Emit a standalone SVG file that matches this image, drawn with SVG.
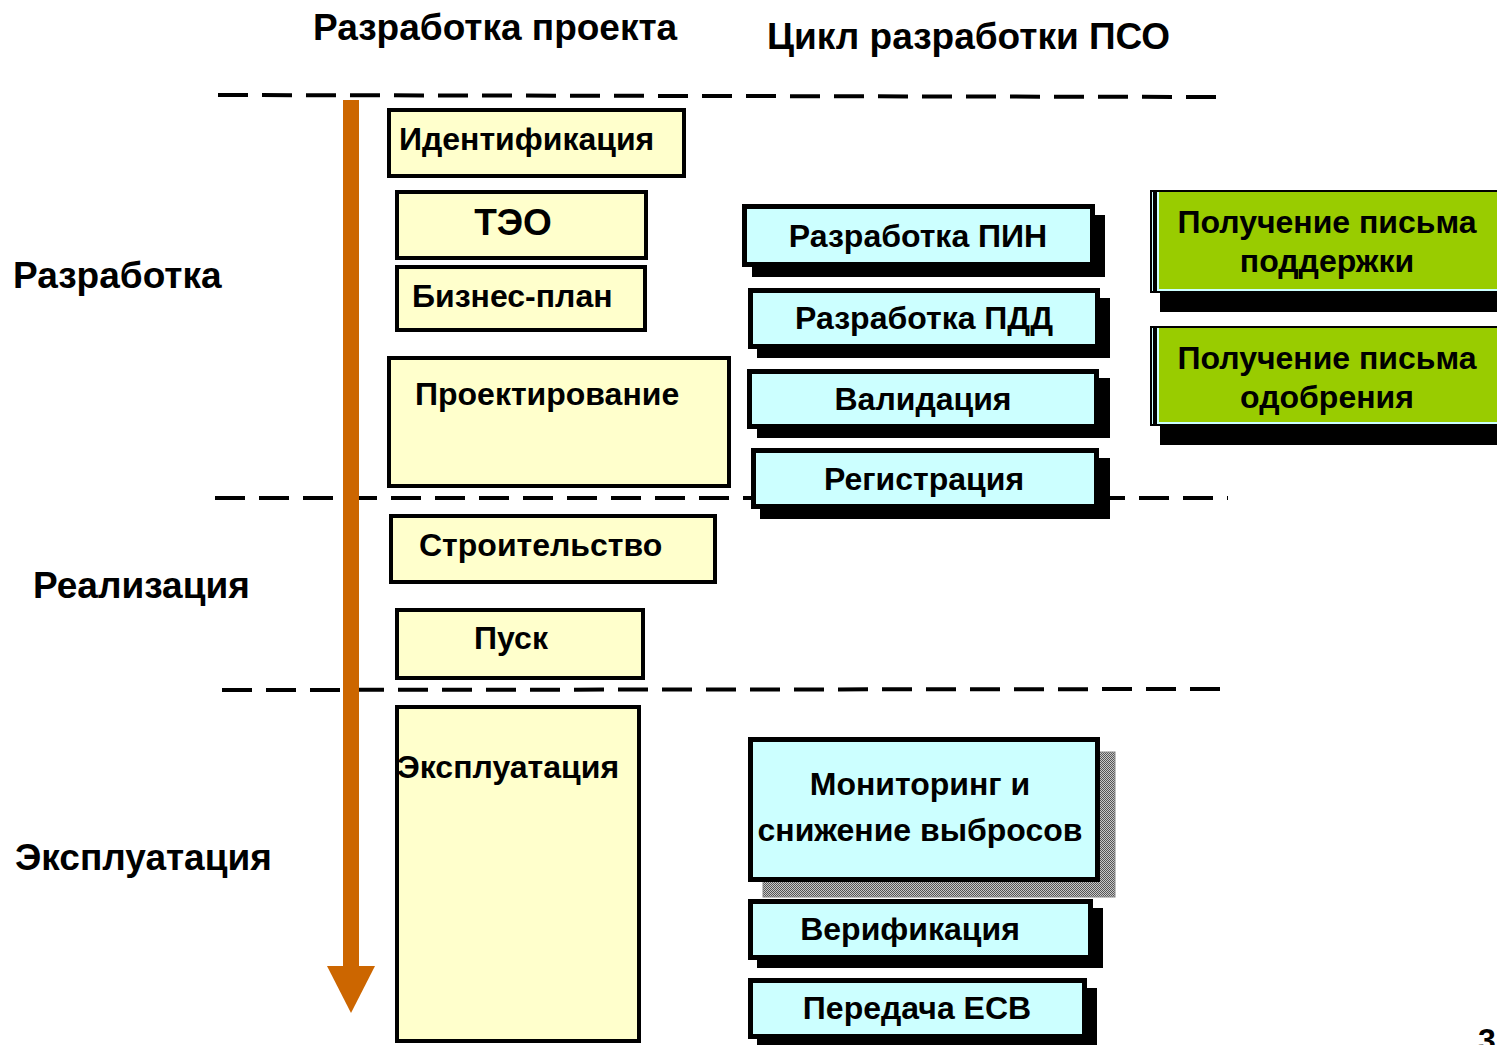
<svg xmlns="http://www.w3.org/2000/svg" width="1497" height="1045" viewBox="0 0 1497 1045">
<defs>
<style>
text{font-family:"Liberation Sans",Arial,sans-serif;font-weight:bold;fill:#000}
.hdr{font-size:37px}
.lbl{font-size:37px}
.t{font-size:32px}
.y{fill:#ffffcc;stroke:#000;stroke-width:4}
.c{fill:#ccffff;stroke:#000;stroke-width:5}
.sh{fill:#000}
.dash{stroke:#000;stroke-width:4;stroke-dasharray:30 14;fill:none}
.mid{text-anchor:middle}
</style>
<pattern id="hatch" width="2" height="2" patternUnits="userSpaceOnUse">
<rect width="2" height="2" fill="#c8c8c8"/>
<rect width="1" height="1" fill="#555"/>
<rect x="1" y="1" width="1" height="1" fill="#555"/>
</pattern>
</defs>
<rect width="1497" height="1045" fill="#fff"/>

<g id="headers">
<text class="hdr" x="313" y="40">Разработка проекта</text>
<text class="hdr" x="767" y="49">Цикл разработки ПСО</text>
</g>
<g id="phase-labels">
<text class="lbl" x="13" y="288">Разработка</text>
<text class="lbl" x="33" y="598">Реализация</text>
<text class="lbl" x="15" y="870">Эксплуатация</text>
</g>

<g id="dividers">
<line class="dash" x1="218" y1="95" x2="1218" y2="97"/>
<line class="dash" x1="215" y1="498" x2="1228" y2="498"/>
<line class="dash" x1="222" y1="690" x2="1222" y2="689"/>
</g>

<g id="connectors">
<rect x="343" y="100" width="16" height="870" fill="#cc6600"/>
<polygon points="327,966 375,966 351,1013" fill="#cc6600"/>
</g>

<g id="n-ident"><rect class="y" x="389" y="110" width="295" height="66"/><text class="t" x="399" y="150">Идентификация</text></g>
<g id="n-teo"><rect class="y" x="397" y="192" width="249" height="66"/><text class="t mid" x="513" y="235" style="font-size:37px">ТЭО</text></g>
<g id="n-biz"><rect class="y" x="397" y="267" width="248" height="63"/><text class="t" x="412" y="307">Бизнес-план</text></g>
<g id="n-proj"><rect class="y" x="389" y="358" width="340" height="128"/><text class="t" x="415" y="405">Проектирование</text></g>
<g id="n-build"><rect class="y" x="391" y="516" width="324" height="66"/><text class="t" x="419" y="556">Строительство</text></g>
<g id="n-start"><rect class="y" x="397" y="610" width="246" height="68"/><text class="t mid" x="511" y="649">Пуск</text></g>
<g id="n-oper"><rect class="y" x="397" y="707" width="242" height="334"/><text class="t" x="397" y="778">Эксплуатация</text></g>

<g id="n-pin"><rect class="sh" x="752" y="215" width="353" height="62"/><rect class="c" x="744.5" y="206.5" width="348" height="58"/><text class="t mid" x="918" y="247">Разработка ПИН</text></g>
<g id="n-pdd"><rect class="sh" x="757" y="298" width="353" height="60"/><rect class="c" x="750.5" y="290.5" width="347" height="56"/><text class="t mid" x="924" y="329">Разработка ПДД</text></g>
<g id="n-valid"><rect class="sh" x="757" y="378" width="353" height="60"/><rect class="c" x="749.5" y="371.5" width="347" height="55"/><text class="t mid" x="923" y="410">Валидация</text></g>
<g id="n-reg"><rect class="sh" x="760" y="458" width="350" height="61"/><rect class="c" x="753.5" y="450.5" width="343" height="56"/><text class="t mid" x="924" y="490">Регистрация</text></g>

<g id="n-mon"><rect x="763" y="752" width="352" height="145" fill="url(#hatch)" stroke="#888" stroke-width="1"/><rect class="c" x="750.5" y="739.5" width="347" height="140"/><text class="t mid" x="920" y="795">Мониторинг и</text><text class="t mid" x="920" y="841">снижение выбросов</text></g>
<g id="n-verif"><rect class="sh" x="757" y="908" width="346" height="60"/><rect class="c" x="750.5" y="901.5" width="340" height="56"/><text class="t mid" x="910" y="940">Верификация</text></g>
<g id="n-ecb"><rect class="sh" x="757" y="988" width="340" height="60"/><rect class="c" x="750.5" y="980.5" width="334" height="56"/><text class="t mid" x="917" y="1019">Передача ЕСВ</text></g>

<g id="n-support"><rect class="sh" x="1160" y="200" width="337" height="112"/><rect x="1151" y="191" width="350" height="101" fill="#ccffff" stroke="#000" stroke-width="2"/><rect x="1153" y="191" width="4" height="101" fill="#000"/><rect x="1159" y="192" width="338" height="97" fill="#99cc00"/><text class="t mid" x="1327" y="233">Получение письма</text><text class="t mid" x="1327" y="272">поддержки</text></g>
<g id="n-approval"><rect class="sh" x="1160" y="336" width="337" height="109"/><rect x="1151" y="327" width="350" height="98" fill="#ccffff" stroke="#000" stroke-width="2"/><rect x="1153" y="327" width="4" height="98" fill="#000"/><rect x="1159" y="328" width="338" height="94" fill="#99cc00"/><text class="t mid" x="1327" y="369">Получение письма</text><text class="t mid" x="1327" y="408">одобрения</text></g>

<text x="1478" y="1051" style="font-size:32px">3</text>
</svg>
